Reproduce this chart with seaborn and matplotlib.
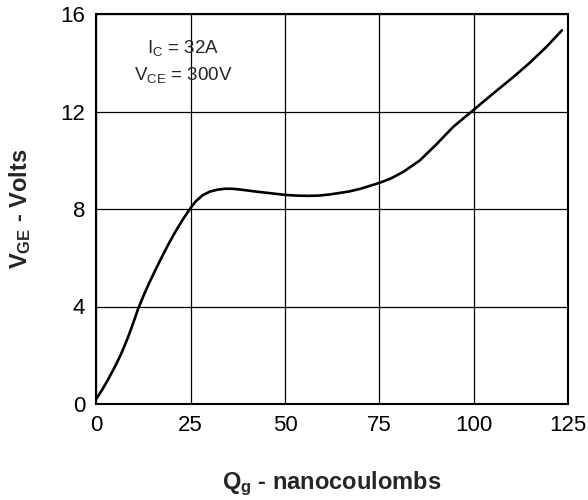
import matplotlib
matplotlib.use("Agg")
import matplotlib.pyplot as plt
import seaborn as sns
import pandas as pd
from matplotlib.ticker import MultipleLocator

# Data
qg = [0, 1.5, 3, 4.8, 6.6, 8.4, 9.7, 11, 12.5, 14, 15.8, 17.5, 19, 20.6, 22,
      23.2, 25, 26.3, 28.1, 30, 32, 34, 36, 38, 42, 46, 50, 53, 56, 59, 62, 67,
      70, 72.5, 75, 78, 81.3, 85.7, 90.1, 94.5, 100, 105.1, 110.4, 114.8, 119.2,
      123.4]
vge = [0.22, 0.58, 0.98, 1.5, 2.07, 2.75, 3.3, 3.88, 4.45, 4.97, 5.55, 6.08,
       6.53, 6.98, 7.34, 7.64, 8.05, 8.31, 8.56, 8.71, 8.79, 8.83, 8.83, 8.8,
       8.72, 8.65, 8.58, 8.55, 8.54, 8.55, 8.6, 8.72, 8.83, 8.95, 9.07, 9.25,
       9.52, 9.99, 10.65, 11.36, 12.07, 12.73, 13.4, 13.99, 14.64, 15.33]
x_ticks = [0, 25, 50, 75, 100, 125]
y_ticks = [0, 4, 8, 12, 16]
annot = [r"I$_\mathregular{C}$ = 32A", r"V$_\mathregular{CE}$ = 300V"]

sns.set_style("white")
plt.rcParams["font.family"] = ["Liberation Sans", "DejaVu Sans"]
plt.rcParams["mathtext.fontset"] = "custom"
plt.rcParams["mathtext.rm"] = "Liberation Sans"
plt.rcParams["mathtext.bf"] = "Liberation Sans:bold"
plt.rcParams["mathtext.default"] = "regular"

df = pd.DataFrame({"Qg": qg, "VGE": vge})

fig = plt.figure(figsize=(5.88, 5.0), dpi=100)
ax = fig.add_axes([0.164, 0.192, 0.802, 0.780])

sns.lineplot(data=df, x="Qg", y="VGE", ax=ax, color="black", linewidth=1.9,
             zorder=5, sort=False)

ax.set_xlim(0, 125)
ax.set_ylim(0, 16)
ax.set_xticks(x_ticks)
ax.set_yticks(y_ticks)
ax.xaxis.set_minor_locator(MultipleLocator(5))
ax.yaxis.set_minor_locator(MultipleLocator(1))
ax.tick_params(axis="both", which="major", length=0, labelsize=16, pad=8, colors="black")
ax.tick_params(axis="both", which="minor", direction="in", length=7, width=1, color="black")
ax.grid(True, which="major", color="black", linewidth=0.9)
ax.set_axisbelow(True)
for s in ax.spines.values():
    s.set_color("black")
    s.set_linewidth(1.5)

ax.set_xlabel(r"$\mathbf{Q_g}$ - nanocoulombs", fontsize=17, fontweight="bold", labelpad=24)
ax.set_ylabel(r"$\mathbf{V_{GE}}$ - Volts", fontsize=17, fontweight="bold", labelpad=20)

ax.text(23, 14.6, annot[0], fontsize=13.5, ha="center", va="center")
ax.text(23, 13.5, annot[1], fontsize=13.5, ha="center", va="center")

fig.savefig("out.png", dpi=100)
